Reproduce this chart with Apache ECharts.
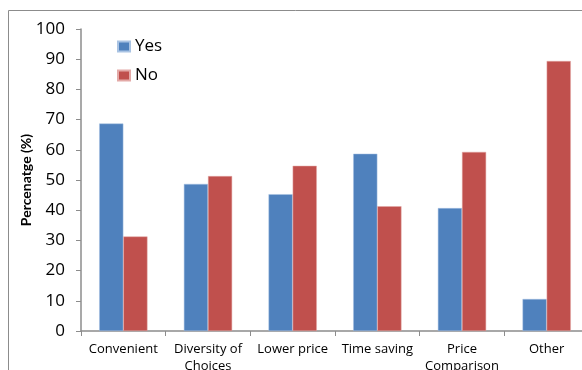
<!DOCTYPE html>
<html>
<head>
<meta charset="utf-8">
<script src="https://cdn.jsdelivr.net/npm/echarts@6/dist/echarts.min.js"></script>
<style>
html, body { margin: 0; padding: 0; background: #fff; }
#chart { width: 582px; height: 370px; }
</style>
</head>
<body>
<div id="chart"></div>
<script>
var categories = ['Convenient', 'Diversity of\nChoices', 'Lower price', 'Time saving', 'Price\nComparison', 'Other'];
var yesValues = [68.7, 48.7, 45.3, 58.7, 40.7, 10.6];
var noValues = [31.3, 51.3, 54.7, 41.3, 59.3, 89.4];
var yTicks = [0, 10, 20, 30, 40, 50, 60, 70, 80, 90, 100];

var dom = document.getElementById('chart');
var myChart = echarts.init(dom);
var font = '"Open Sans", Lato, sans-serif';

var option = {
    animation: false,
    textStyle: { fontFamily: font },
    graphic: [{
        type: 'rect',
        shape: { x: 8.5, y: 10.5, width: 600, height: 400 },
        style: { fill: 'none', stroke: '#8c8c8c', lineWidth: 1 },
        z: -1
    }],
    legend: {
        orient: 'vertical',
        left: 112,
        top: 33,
        itemWidth: 12,
        itemHeight: 10,
        itemGap: 12,
        icon: 'rect',
        textStyle: { fontSize: 17, color: '#000', fontFamily: font },
        data: ['Yes', 'No']
    },
    grid: {
        left: 81,
        width: 508,
        top: 29,
        bottom: 39,
        outerBoundsMode: 'none'
    },
    xAxis: {
        type: 'category',
        data: categories,
        axisLine: { lineStyle: { color: '#8c8c8c', width: 1.5 } },
        axisTick: { show: true, length: 5, lineStyle: { color: '#8c8c8c' } },
        axisLabel: { color: '#000', fontSize: 13, margin: 10, lineHeight: 17, interval: 0 }
    },
    yAxis: {
        type: 'value',
        min: yTicks[0],
        max: yTicks[yTicks.length - 1],
        interval: 10,
        name: 'Percenatge (%)',
        nameLocation: 'middle',
        nameGap: 48,
        nameMoveOverlap: false,
        nameTextStyle: { fontSize: 14, fontWeight: 'bold', color: '#000', fontFamily: 'Lato, sans-serif' },
        axisLine: { show: true, lineStyle: { color: '#8c8c8c', width: 1.5 } },
        axisTick: { show: true, length: 5, lineStyle: { color: '#8c8c8c' } },
        splitLine: { show: false },
        axisLabel: { color: '#000', fontSize: 17, margin: 16 }
    },
    series: [
        {
            name: 'Yes',
            type: 'bar',
            data: yesValues,
            barGap: '0%',
            barCategoryGap: '43%',
            itemStyle: { color: '#4F81BD', borderColor: '#a9c3e3', borderWidth: 0.5 }
        },
        {
            name: 'No',
            type: 'bar',
            data: noValues,
            itemStyle: { color: '#C0504D', borderColor: '#e3a9a7', borderWidth: 0.5 }
        }
    ]
};

if (option && typeof option === 'object') {
    myChart.setOption(option, true);
}
</script>
</body>
</html>
